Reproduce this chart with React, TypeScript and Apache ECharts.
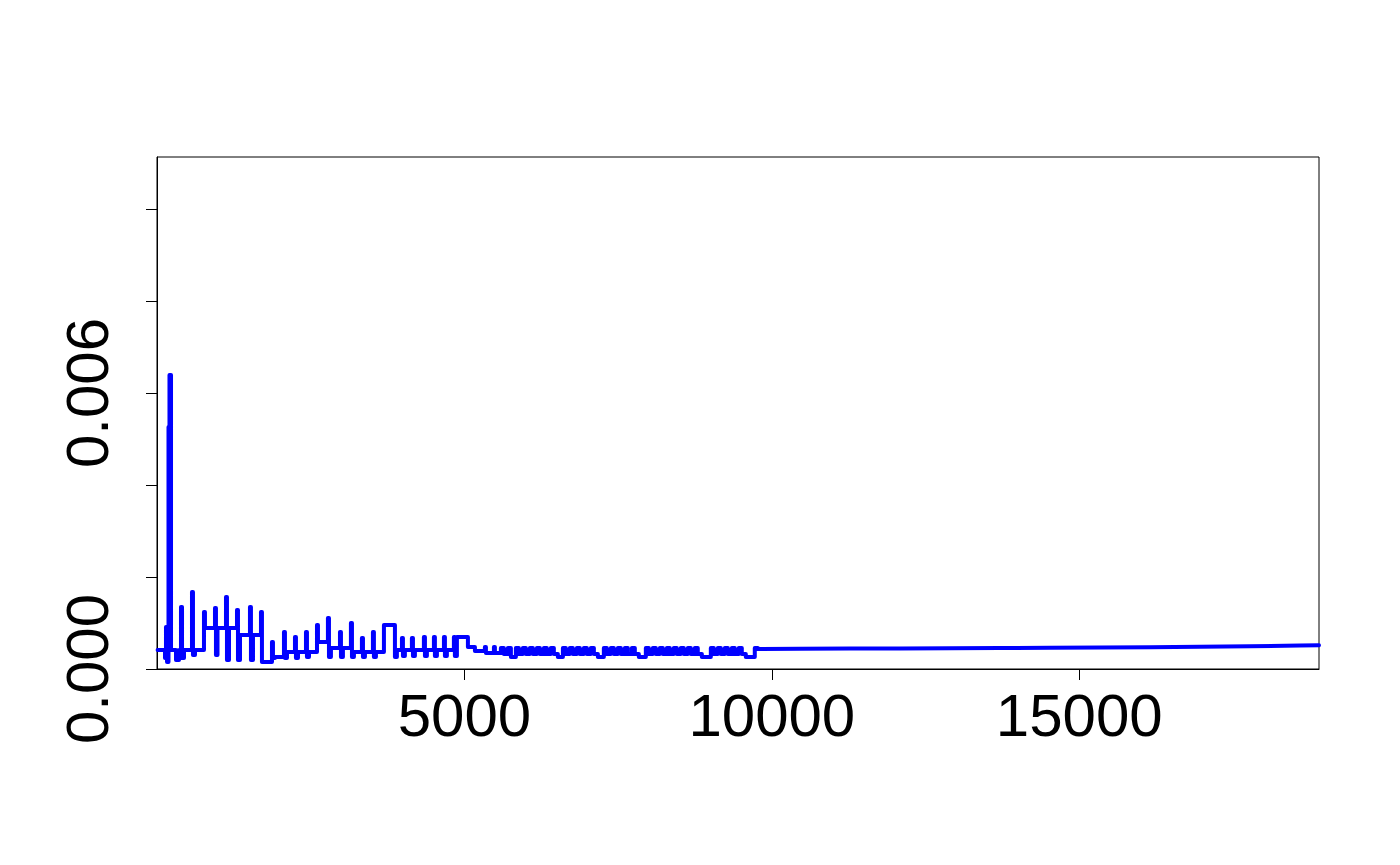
import React, { useEffect, useRef } from "react";
import * as echarts from "echarts";

// x positions (index units) where the series changes level (step after each point)
const stepX: number[] = [
  10, 130, 146, 163, 187, 203, 228, 309, 358, 390, 407, 439, 569, 585, 618, 764, 780, 943, 959, 984,
  1122, 1138, 1171, 1301, 1317, 1350, 1512, 1528, 1561, 1691, 1707, 1870, 1886,
  1919, 2065, 2081, 2114, 2244, 2260, 2293, 2423, 2439, 2472, 2602, 2618, 2780, 2797, 2829,
  2976, 2992, 3024, 3154, 3171, 3203, 3333, 3350, 3382, 3512, 3528, 3561, 3691, 3870, 3902,
  3984, 4000, 4032, 4146, 4163, 4195, 4341, 4358, 4390, 4504, 4520, 4553, 4667, 4683, 4715,
  4829, 4845, 4878, 5057, 5171, 5333, 5350, 5480, 5496,
  5593, 5642, 5707, 5756, 5837, 5886, 5951, 6000, 6065, 6114, 6179, 6228, 6293, 6341, 6406, 6455,
  6520, 6602, 6650, 6715, 6764, 6829, 6878, 6943, 6992, 7057, 7106, 7171, 7268, 7317, 7382, 7431,
  7496, 7545, 7610, 7658, 7724, 7772, 7837, 7951, 8000, 8065, 8114, 8179, 8228, 8293, 8341, 8406,
  8455, 8520, 8569, 8634, 8683, 8748, 8796, 8862, 9008, 9057, 9122, 9171, 9236, 9285, 9350, 9398,
  9463, 9512, 9577, 9723, 9772,
];

const stepY: number[] = [
  0.000413, 0.000239, 0.000913, 0.000152, 0.005261, 0.006391, 0.000413, 0.000196, 0.000413, 0.001348,
  0.000239, 0.000413, 0.001674, 0.000304, 0.000413, 0.001239, 0.000891, 0.001326, 0.000304, 0.000891,
  0.001565, 0.000196, 0.000891, 0.001283, 0.000196, 0.000739, 0.001348, 0.000196, 0.000739, 0.001239,
  0.000152, 0.000587, 0.000239,
  0.000261, 0.000804, 0.000239, 0.00037, 0.000696, 0.000239, 0.00037, 0.000804, 0.000261, 0.00037,
  0.000957, 0.000587, 0.001109, 0.000261, 0.000457,
  0.000804, 0.000261, 0.000457, 0.001, 0.000261, 0.00037, 0.000674, 0.000261, 0.00037, 0.000804,
  0.000261, 0.00037, 0.000957, 0.000261, 0.000413,
  0.000674, 0.000283, 0.000413, 0.000674, 0.000283, 0.000413, 0.000696, 0.000283, 0.000413, 0.000696,
  0.000283, 0.000413, 0.000696, 0.000283, 0.000413,
  0.000696, 0.000283, 0.000696, 0.000478, 0.000391, 0.000478, 0.000348, 0.000478, 0.000348,
  0.000457, 0.000326, 0.000457, 0.000261, 0.000457, 0.000326, 0.000457, 0.000326, 0.000457, 0.000326,
  0.000457, 0.000326, 0.000457, 0.000326, 0.000457, 0.000326,
  0.000261, 0.000457, 0.000326, 0.000457, 0.000326, 0.000457, 0.000326, 0.000457, 0.000326, 0.000457,
  0.000326, 0.000261, 0.000457, 0.000326, 0.000457, 0.000326,
  0.000457, 0.000326, 0.000457, 0.000326, 0.000457, 0.000326, 0.000261, 0.000457, 0.000326, 0.000457,
  0.000326, 0.000457, 0.000326, 0.000457, 0.000326, 0.000457,
  0.000326, 0.000457, 0.000326, 0.000457, 0.000326, 0.000457, 0.000326, 0.000261, 0.000457, 0.000326,
  0.000457, 0.000326, 0.000457, 0.000326, 0.000457, 0.000326,
  0.000457, 0.000326, 0.000261, 0.000457, 0.000435,
];

// smooth tail of the series
const tailX: number[] = [
  9772, 10455, 11268, 12081, 12894, 13707, 14520, 15333, 16146, 16959, 17772, 18585, 18900,
];
const tailY: number[] = [
  0.000435, 0.000439, 0.000443, 0.000448, 0.000452, 0.000457, 0.000461, 0.000467, 0.000474,
  0.000483, 0.000493, 0.000509, 0.000517,
];

const xTickValues: number[] = [5000, 10000, 15000];
const yTickValues: number[] = [0, 0.002, 0.004, 0.006, 0.008, 0.01];
const yLabelValues: number[] = [0, 0.006];

const X_MIN = 0;
const X_MAX = 18900;
const Y_MIN = 0;
const Y_MAX = 0.01113;

export default function App() {
  const ref = useRef<HTMLDivElement>(null);

  useEffect(() => {
    if (!ref.current) return;
    const chart = echarts.init(ref.current, null, { renderer: "svg" });
    const stepData = stepX.map((x, i) => [x, stepY[i]]);
    const tailData = tailX.map((x, i) => [x, tailY[i]]);
    const fontFamily = "'Liberation Sans', Arial, Helvetica, sans-serif";
    const lineStyle = { color: "#0000ff", width: 4, join: "round", cap: "round" };

    chart.setOption({
      animation: false,
      backgroundColor: "#ffffff",
      grid: {
        left: 157,
        top: 157,
        width: 1162,
        height: 512,
        show: true,
        borderColor: "#000000",
        borderWidth: 1,
        backgroundColor: "transparent",
      },
      xAxis: {
        type: "value",
        min: X_MIN,
        max: X_MAX,
        splitLine: { show: false },
        axisLine: { show: true, onZero: false, lineStyle: { color: "#000", width: 1 } },
        axisTick: {
          show: true,
          length: 11,
          inside: false,
          customValues: xTickValues,
          lineStyle: { color: "#000", width: 1 },
        },
        axisLabel: {
          show: true,
          customValues: xTickValues,
          fontSize: 60,
          color: "#000",
          fontFamily,
          margin: 16,
          formatter: (v: number) => String(Math.round(v)),
        },
      },
      yAxis: {
        type: "value",
        min: Y_MIN,
        max: Y_MAX,
        splitLine: { show: false },
        axisLine: { show: true, onZero: false, lineStyle: { color: "#000", width: 1 } },
        axisTick: {
          show: true,
          length: 11,
          inside: false,
          customValues: yTickValues,
          lineStyle: { color: "#000", width: 1 },
        },
        axisLabel: {
          show: true,
          customValues: yLabelValues,
          rotate: 90,
          fontSize: 60,
          color: "#000",
          fontFamily,
          margin: 40,
          formatter: (v: number) => v.toFixed(3),
        },
      },
      series: [
        {
          type: "line",
          data: stepData,
          step: "end",
          showSymbol: false,
          symbol: "none",
          lineStyle,
          clip: true,
        },
        {
          type: "line",
          data: tailData,
          showSymbol: false,
          symbol: "none",
          lineStyle,
          clip: true,
        },
      ],
    });

    return () => {
      chart.dispose();
    };
  }, []);

  return (
    <div
      ref={ref}
      style={{ position: "absolute", left: 0, top: 0, width: 1400, height: 865, background: "#fff" }}
    />
  );
}
